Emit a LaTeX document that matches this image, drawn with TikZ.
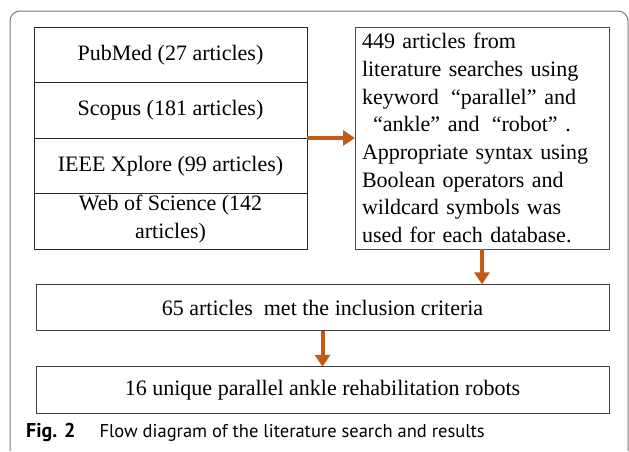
\documentclass[tikz,border=0pt]{standalone}
\usepackage{fontspec}
\setmainfont{Liberation Serif}
\newfontfamily\capfont{PT Sans}
\usetikzlibrary{positioning,arrows.meta}

\definecolor{flowarrow}{RGB}{197,90,17}
\definecolor{framegray}{RGB}{120,120,120}

\tikzset{
    dbbox/.style={draw=black!85, line width=0.9pt, minimum width=273pt, minimum height=55.5pt,
        inner sep=0pt, outer sep=0pt, align=center, font=\fontsize{22}{28}\selectfont},
    widebox/.style={draw=black!75, line width=0.9pt, minimum width=573pt, minimum height=46.5pt,
        inner sep=0pt, outer sep=0pt, font=\fontsize{22}{26}\selectfont},
    flowarr/.style={draw=flowarrow, line width=4pt, -{Triangle[length=12pt,width=15pt]}}
}

\begin{document}
\begin{tikzpicture}[x=1pt, y=-1pt]
        \useasboundingbox (0,0) rectangle (629,451);
        \draw[framegray, line width=1pt, rounded corners=10pt] (10,451)--(10,11)--(628,11)--(628,451);

        \node[dbbox, anchor=north west] (pubmed) at (34,27) {PubMed (27 articles)};
        \node[dbbox, below=0pt of pubmed] (scopus) {Scopus (181 articles)};
        \node[dbbox, below=0pt of scopus] (ieee) {IEEE Xplore (99 articles)};
        \node[dbbox, below=0pt of ieee, text depth=10pt] (wos) {Web of Science (142\\articles)};

        \node[draw=black!70, line width=0.9pt, anchor=north west, minimum width=254pt, minimum height=222pt,
            inner sep=0pt, outer sep=0pt, text width=240pt, align=left, font=\fontsize{22}{27.7}\selectfont]
            (search) at (355,27) {449 articles from\\
            literature searches using\\
            keyword\hspace{0.55em}“parallel”\hspace{0.35em}and\\
            \hspace{0.5em}“ankle”\hspace{0.35em}and\hspace{0.55em}“robot”\hspace{0.35em}.\\
            Appropriate syntax using\\
            Boolean operators and\\
            wildcard symbols was\\
            used for each database.};

        \node[widebox] (criteria) at (322.5,307.5) {65 articles\ \ met the inclusion criteria};
        \node[widebox] (robots) at (322.5,390) {16 unique parallel ankle rehabilitation robots};

        \draw[flowarr] (scopus.south east) -- (search.west|-scopus.south east);
        \draw[flowarr] (search.south) -- (search.south|-criteria.north);
        \draw[flowarr] (criteria) -- (robots);

        \node[anchor=base west, inner sep=0pt, font=\capfont\fontsize{18.5}{22}\selectfont] (caption) at (26,437)
            {{\fontsize{20}{22}\selectfont\textbf{Fig. 2}}\hspace{1.3em}Flow diagram of the literature search and results};
\end{tikzpicture}
\end{document}
